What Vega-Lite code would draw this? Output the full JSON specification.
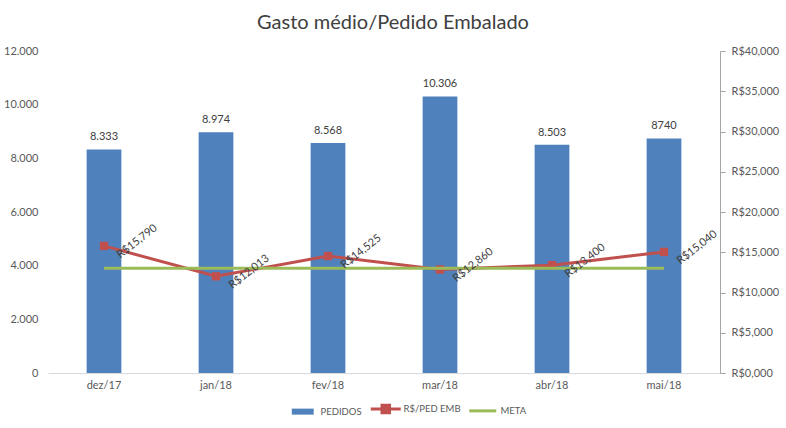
{
  "$schema": "https://vega.github.io/schema/vega-lite/v6.json",
  "width": 672,
  "height": 322,
  "autosize": {"type": "none"},
  "padding": {"left": 48, "top": 51, "right": 66, "bottom": 55},
  "background": "white",
  "title": {
    "text": "Gasto médio/Pedido Embalado",
    "fontSize": 20,
    "font": "Lato",
    "fontWeight": "normal",
    "color": "#404040",
    "anchor": "middle",
    "dx": 9,
    "offset": 12
  },
  "config": {
    "view": {"stroke": null},
    "font": "Lato",
    "axis": {"grid": false, "labelFont": "Lato", "labelFontSize": 11, "labelColor": "#595959", "title": null}
  },
  "data": {
    "values": [
      {"mes": "dez/17", "pedidos": 8333, "pedidos_rotulo": "8.333", "gasto": 15790, "gasto_rotulo": "R$15,790", "meta": 13000},
      {"mes": "jan/18", "pedidos": 8974, "pedidos_rotulo": "8.974", "gasto": 12013, "gasto_rotulo": "R$12,013", "meta": 13000},
      {"mes": "fev/18", "pedidos": 8568, "pedidos_rotulo": "8.568", "gasto": 14525, "gasto_rotulo": "R$14,525", "meta": 13000},
      {"mes": "mar/18", "pedidos": 10306, "pedidos_rotulo": "10.306", "gasto": 12860, "gasto_rotulo": "R$12,860", "meta": 13000},
      {"mes": "abr/18", "pedidos": 8503, "pedidos_rotulo": "8.503", "gasto": 13400, "gasto_rotulo": "R$13,400", "meta": 13000},
      {"mes": "mai/18", "pedidos": 8740, "pedidos_rotulo": "8740", "gasto": 15040, "gasto_rotulo": "R$15,040", "meta": 13000}
    ]
  },
  "encoding": {
    "x": {
      "field": "mes",
      "type": "nominal",
      "sort": null,
      "scale": {"paddingInner": 0.69, "paddingOuter": 0.345},
      "axis": {"labelAngle": 0, "domainColor": "#D9D9D9", "ticks": false, "labelPadding": 6}
    }
  },
  "layer": [
    {
      "layer": [
        {
          "mark": {"type": "bar", "color": "#4F81BD"},
          "encoding": {
            "y": {
              "field": "pedidos",
              "type": "quantitative",
              "scale": {"domain": [0, 12000]},
              "axis": {
                "orient": "left",
                "values": [0, 2000, 4000, 6000, 8000, 10000, 12000],
                "domain": false,
                "ticks": false,
                "labelPadding": 10,
                "labelExpr": "replace(format(datum.value, ','), ',', '.')"
              }
            },
            "color": {
              "datum": "PEDIDOS",
              "type": "nominal",
              "scale": {"domain": ["PEDIDOS", "R$/PED EMB", "META"], "range": ["#4F81BD", "#C0504D", "#9BBB59"]},
              "legend": {
                "orient": "none",
                "legendX": 250,
                "legendY": 353,
                "direction": "horizontal",
                "title": null,
                "symbolSize": 900,
                "labelFont": "Lato",
                "labelFontSize": 9.5,
                "labelColor": "#595959",
                "labelOffset": 13,
                "columnPadding": 2,
                "encode": {
                  "symbols": {
                    "update": {
                      "shape": {"signal": "datum.value === 'PEDIDOS' ? 'M-0.73,-0.2H0.73V0.2H-0.73Z' : datum.value === 'R$/PED EMB' ? 'M-1,0H1M-0.25,-0.25H0.25V0.25H-0.25Z' : 'M-0.9,0H0.9'"},
                      "fill": {"signal": "datum.value === 'PEDIDOS' ? '#4F81BD' : datum.value === 'R$/PED EMB' ? '#C0504D' : '#9BBB59'"},
                      "stroke": {"signal": "datum.value === 'PEDIDOS' ? '#4F81BD' : datum.value === 'R$/PED EMB' ? '#C0504D' : '#9BBB59'"},
                      "strokeWidth": {"signal": "datum.value === 'PEDIDOS' ? 0 : 3"},
                      "opacity": {"value": 1}
                    }
                  }
                }
              }
            }
          }
        },
        {
          "mark": {"type": "text", "baseline": "bottom", "dy": -7, "fontSize": 11, "color": "#404040", "font": "Lato"},
          "encoding": {
            "y": {"field": "pedidos", "type": "quantitative", "scale": {"domain": [0, 12000]}},
            "text": {"field": "pedidos_rotulo"}
          }
        }
      ]
    },
    {
      "layer": [
        {
          "mark": {"type": "line", "strokeWidth": 3, "point": {"filled": true, "shape": "square", "size": 70, "color": "#C0504D"}},
          "encoding": {
            "y": {
              "field": "gasto",
              "type": "quantitative",
              "scale": {"domain": [0, 40000]},
              "axis": {
                "orient": "right",
                "values": [0, 5000, 10000, 15000, 20000, 25000, 30000, 35000, 40000],
                "domainColor": "#A6A6A6",
                "tickColor": "#A6A6A6",
                "tickSize": 5,
                "labelPadding": 6,
                "labelExpr": "'R$' + replace(format(datum.value / 1000, '.3f'), '.', ',')",
                "labelAlign": "left"
              }
            },
            "color": {"datum": "R$/PED EMB", "type": "nominal"}
          }
        },
        {
          "mark": {"type": "line", "strokeWidth": 3},
          "encoding": {
            "y": {"field": "meta", "type": "quantitative", "scale": {"domain": [0, 40000]}},
            "color": {"datum": "META", "type": "nominal"}
          }
        },
        {
          "mark": {"type": "text", "align": "left", "baseline": "middle", "angle": 322, "dx": 5, "dy": 17, "fontSize": 11, "color": "#404040", "font": "Lato"},
          "encoding": {
            "y": {"field": "gasto", "type": "quantitative", "scale": {"domain": [0, 40000]}},
            "text": {"field": "gasto_rotulo"}
          }
        }
      ]
    }
  ],
  "resolve": {"scale": {"y": "independent"}}
}
